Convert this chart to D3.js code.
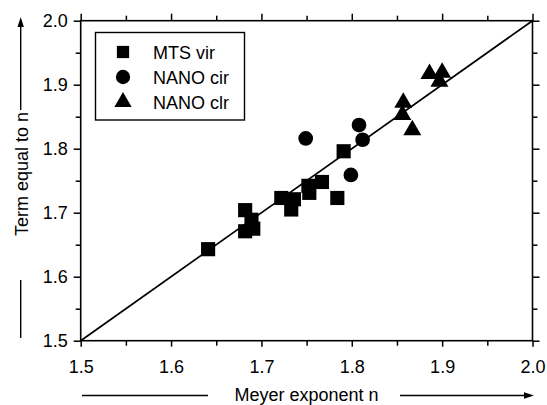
<!DOCTYPE html>
<html>
<head>
<meta charset="utf-8">
<script src="https://cdn.jsdelivr.net/npm/d3@7"></script>
<style>
  html, body { margin: 0; padding: 0; background: #fff; }
  svg { display: block; font-family: "Liberation Sans", Arial, sans-serif; }
</style>
</head>
<body>
<svg id="chart" width="547" height="405"></svg>
<script>
// Meyer exponent n (x) against the term equal to n (y)
const mtsVirX  = [1.641, 1.682, 1.689, 1.682, 1.691, 1.722, 1.736, 1.733, 1.752, 1.753, 1.767, 1.784, 1.791];
const mtsVirY  = [1.643, 1.704, 1.689, 1.671, 1.675, 1.723, 1.721, 1.705, 1.742, 1.731, 1.748, 1.723, 1.796];
const nanoCirX = [1.749, 1.799, 1.808, 1.812];
const nanoCirY = [1.816, 1.759, 1.837, 1.814];
const nanoClrX = [1.886, 1.900, 1.897, 1.857, 1.856, 1.867];
const nanoClrY = [1.917, 1.919, 1.905, 1.872, 1.853, 1.829];

const seriesNames = ["MTS vir", "NANO cir", "NANO clr"];
const majorTicks = [1.5, 1.6, 1.7, 1.8, 1.9, 2.0];
const minorTicks = [1.55, 1.65, 1.75, 1.85, 1.95];
const lineEnds = [1.5, 2.0];
const xTitle = "Meyer exponent n";
const yTitle = "Term equal  to n";

const svg = d3.select("#chart");
const plotL = 80.7, plotR = 532.5, plotT = 20.7, plotB = 340.7;
const x = d3.scaleLinear().domain([1.5, 2.0]).range([plotL, plotR]);
const y = d3.scaleLinear().domain([1.5, 2.0]).range([plotB, plotT]);

const FONT = 18;
const shapes = [d3.symbolSquare, d3.symbolCircle, d3.symbolTriangle];
const plotSizes = [200, 170, 140];
const legendSizes = [150, 160, 130];

// axes: major ticks (labelled on bottom/left), minor ticks, all pointing outward
function styleAxis(g) {
  g.select(".domain").remove();
  g.selectAll("line").attr("stroke", "#000").attr("stroke-width", 1.5);
  g.selectAll("text").attr("font-size", FONT).attr("fill", "#000");
}
const fmt = d3.format(".1f");

svg.append("g").attr("transform", `translate(0,${plotB})`)
  .call(d3.axisBottom(x).tickValues(majorTicks).tickFormat(fmt).tickSize(6).tickPadding(14))
  .call(styleAxis);
svg.append("g").attr("transform", `translate(0,${plotB})`)
  .call(d3.axisBottom(x).tickValues(minorTicks).tickFormat("").tickSize(5))
  .call(styleAxis);
svg.append("g").attr("transform", `translate(0,${plotT})`)
  .call(d3.axisTop(x).tickValues(majorTicks).tickFormat("").tickSize(7))
  .call(styleAxis);
svg.append("g").attr("transform", `translate(0,${plotT})`)
  .call(d3.axisTop(x).tickValues(minorTicks).tickFormat("").tickSize(5))
  .call(styleAxis);
svg.append("g").attr("transform", `translate(${plotL},0)`)
  .call(d3.axisLeft(y).tickValues(majorTicks).tickFormat(fmt).tickSize(7).tickPadding(6))
  .call(styleAxis);
svg.append("g").attr("transform", `translate(${plotL},0)`)
  .call(d3.axisLeft(y).tickValues(minorTicks).tickFormat("").tickSize(5))
  .call(styleAxis);
svg.append("g").attr("transform", `translate(${plotR},0)`)
  .call(d3.axisRight(y).tickValues(majorTicks).tickFormat("").tickSize(7))
  .call(styleAxis);
svg.append("g").attr("transform", `translate(${plotR},0)`)
  .call(d3.axisRight(y).tickValues(minorTicks).tickFormat("").tickSize(5))
  .call(styleAxis);

// frame
svg.append("rect")
  .attr("x", plotL).attr("y", plotT)
  .attr("width", plotR - plotL).attr("height", plotB - plotT)
  .attr("fill", "none").attr("stroke", "#000").attr("stroke-width", 1.6);

// y = x reference line
svg.append("line")
  .attr("x1", x(lineEnds[0])).attr("y1", y(lineEnds[0]))
  .attr("x2", x(lineEnds[1])).attr("y2", y(lineEnds[1]))
  .attr("stroke", "#000").attr("stroke-width", 1.7);

// markers
const series = [
  { xs: mtsVirX, ys: mtsVirY },
  { xs: nanoCirX, ys: nanoCirY },
  { xs: nanoClrX, ys: nanoClrY }
];
series.forEach((s, i) => {
  const sym = d3.symbol().type(shapes[i]).size(plotSizes[i]);
  svg.append("g").selectAll("path")
    .data(s.xs.map((v, k) => [v, s.ys[k]]))
    .join("path")
    .attr("d", sym)
    .attr("transform", d => `translate(${x(d[0])},${y(d[1])})`)
    .attr("fill", "#000");
});

// legend
const lg = svg.append("g");
lg.append("rect")
  .attr("x", 95.5).attr("y", 32.5).attr("width", 149).attr("height", 87.5)
  .attr("fill", "#fff").attr("stroke", "#000").attr("stroke-width", 1.4);
seriesNames.forEach((name, i) => {
  const cy = 52 + i * 25;
  lg.append("path")
    .attr("d", d3.symbol().type(shapes[i]).size(legendSizes[i]))
    .attr("transform", `translate(123,${cy})`)
    .attr("fill", "#000");
  lg.append("text")
    .attr("x", 153).attr("y", cy + 6.5)
    .attr("font-size", FONT).attr("fill", "#000")
    .text(name);
});

// axis titles with direction arrows
function arrowHead(g, tx, ty, dir) {
  // dir: "right" or "up"
  const L = 10, W = 3.2;
  const pts = dir === "right"
    ? [[tx, ty], [tx - L, ty - W], [tx - L, ty + W]]
    : [[tx, ty], [tx - W, ty + L], [tx + W, ty + L]];
  g.append("path").attr("d", d3.line()(pts) + "Z").attr("fill", "#000");
}

const xt = svg.append("g");
xt.append("text")
  .attr("x", (plotL + plotR) / 2).attr("y", 400.5)
  .attr("text-anchor", "middle").attr("font-size", FONT).attr("fill", "#000")
  .text(xTitle);
xt.append("line").attr("x1", 82).attr("y1", 395.5).attr("x2", 208).attr("y2", 395.5)
  .attr("stroke", "#000").attr("stroke-width", 1.4);
xt.append("line").attr("x1", 400).attr("y1", 395.5).attr("x2", 526).attr("y2", 395.5)
  .attr("stroke", "#000").attr("stroke-width", 1.4);
arrowHead(xt, 534, 395.5, "right");

const yt = svg.append("g");
yt.append("text")
  .attr("transform", "translate(27.5,174) rotate(-90)")
  .attr("text-anchor", "middle").attr("font-size", FONT).attr("fill", "#000")
  .text(yTitle);
yt.append("line").attr("x1", 20.7).attr("y1", 110).attr("x2", 20.7).attr("y2", 25)
  .attr("stroke", "#000").attr("stroke-width", 1.4);
arrowHead(yt, 20.7, 17, "up");
yt.append("line").attr("x1", 20.7).attr("y1", 280).attr("x2", 20.7).attr("y2", 338)
  .attr("stroke", "#000").attr("stroke-width", 1.4);
</script>
</body>
</html>
